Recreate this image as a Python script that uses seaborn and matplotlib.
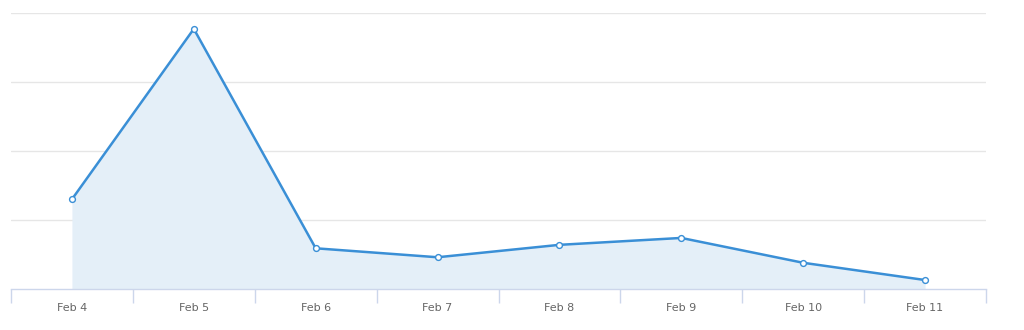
import matplotlib
matplotlib.use("Agg")
import matplotlib.pyplot as plt
import seaborn as sns
import pandas as pd
import numpy as np

dates = ["Feb 4", "Feb 5", "Feb 6", "Feb 7", "Feb 8", "Feb 9", "Feb 10", "Feb 11"]
values = [13.0, 37.7, 5.9, 4.6, 6.4, 7.4, 3.8, 1.3]
grid_values = [10, 20, 30, 40]

df = pd.DataFrame({"date": dates, "value": values, "pos": np.arange(len(dates))})

sns.set_theme(style="white")
plt.rcParams["font.family"] = ["DejaVu Sans"]

fig = plt.figure(figsize=(10.24, 3.3), dpi=100)
ax = fig.add_axes([11 / 1024, 41 / 330, 975 / 1024, 276 / 330])

line_color = "#3a8fd6"
fill_color = "#e4eff8"

ax.fill_between(df["pos"], df["value"], 0, color=fill_color, linewidth=0, zorder=1)
sns.lineplot(data=df, x="pos", y="value", ax=ax, color=line_color, linewidth=1.8,
             marker="o", markersize=4.2, markerfacecolor="white",
             markeredgecolor=line_color, markeredgewidth=1.0, zorder=3)

ax.set_xlim(-0.5, len(dates) - 0.5)
ax.set_ylim(0, 40)
for g in grid_values:
    ax.axhline(g, color="#e6e6e6", linewidth=1, zorder=0)

ax.set_xticks(df["pos"])
ax.set_xticklabels(dates, fontsize=8, color="#666666")
ax.set_xticks(np.arange(-0.5, len(dates)), minor=True)
ax.tick_params(axis="x", which="both", bottom=True)
ax.tick_params(axis="x", which="major", length=0, pad=10)
ax.tick_params(axis="x", which="minor", length=10, width=1, color="#ccd6eb", direction="out")
ax.set_yticks([])
ax.set_xlabel("")
ax.set_ylabel("")

for side in ["top", "right", "left"]:
    ax.spines[side].set_visible(False)
ax.spines["bottom"].set_color("#ccd6eb")
ax.spines["bottom"].set_linewidth(1)

fig.savefig("out.png", dpi=100, facecolor="white")
